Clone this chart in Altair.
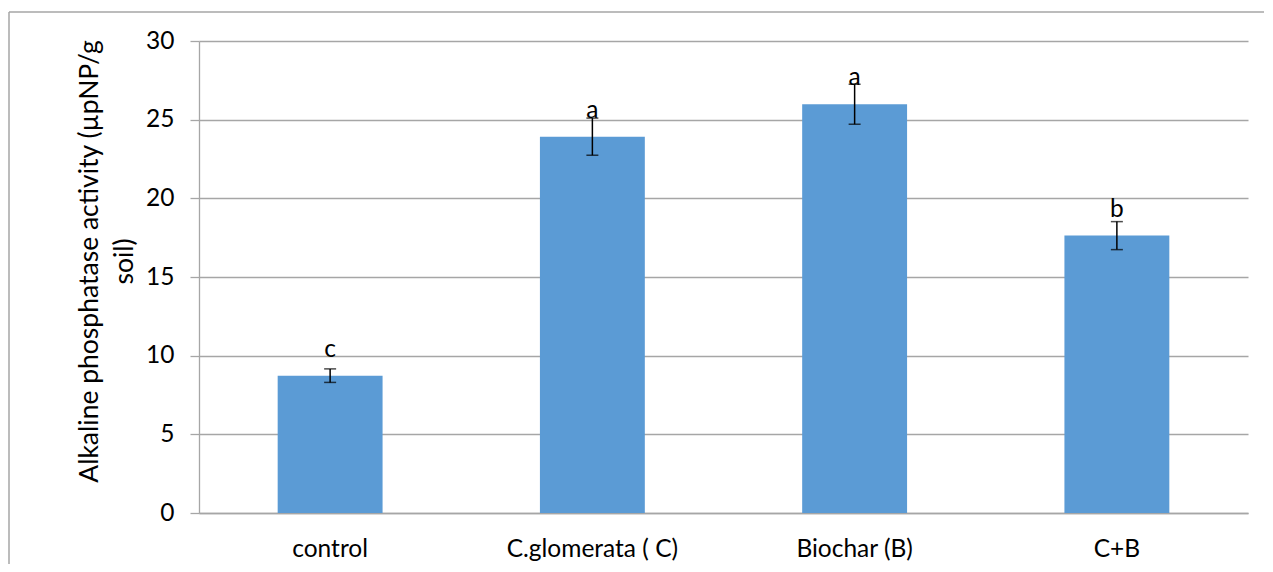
import altair as alt
import pandas as pd

categories = ["control", "C.glomerata ( C)", "Biochar (B)", "C+B"]
values = [8.73, 23.92, 25.98, 17.63]
errors = [0.43, 1.18, 1.27, 0.89]
letters = ["c", "a", "a", "b"]

df = pd.DataFrame({
    "cat": categories,
    "val": values,
    "err": errors,
    "lab": letters,
})
df["lo"] = df["val"] - df["err"]
df["hi"] = df["val"] + df["err"]

FONT = "Lato"
GRAY = "#a6a6a6"
FS = 24.5

x = alt.X("cat:N", sort=categories, title=None,
          scale=alt.Scale(paddingInner=0.6, paddingOuter=0.3),
          axis=alt.Axis(labelAngle=0, ticks=False, domain=True, domainColor=GRAY,
                        domainWidth=1.3,
                        labelFont=FONT, labelFontSize=FS, labelColor="black",
                        labelPadding=24, grid=False))
y = alt.Y("val:Q", scale=alt.Scale(domain=[0, 30], nice=False),
          title=["Alkaline phosphatase activity (µpNP/g", "soil)"],
          axis=alt.Axis(values=[0, 5, 10, 15, 20, 25, 30], grid=True, gridColor=GRAY,
                        gridWidth=1.3, domainColor=GRAY, domainWidth=1.3,
                        tickColor=GRAY, tickWidth=1.3, tickSize=9,
                        labelFont=FONT, labelFontSize=FS, labelColor="black",
                        labelPadding=16, titleFont=FONT, titleFontSize=26.5,
                        titleFontWeight="normal", titleColor="black",
                        titleLineHeight=35, titleX=-96, titleY=220))

base = alt.Chart(df)

bars = base.mark_bar(color="#5B9BD5").encode(x=x, y=y)
rule = base.mark_rule(color="black", strokeWidth=1.5).encode(
    x=alt.X("cat:N", sort=categories), y="lo:Q", y2="hi:Q")
cap_lo = base.mark_tick(color="black", thickness=1.5, size=12, orient="horizontal").encode(
    x=alt.X("cat:N", sort=categories), y="lo:Q")
cap_hi = base.mark_tick(color="black", thickness=1.5, size=12, orient="horizontal").encode(
    x=alt.X("cat:N", sort=categories), y="hi:Q")
text = base.mark_text(font=FONT, fontSize=FS, color="black", dy=-19,
                      baseline="alphabetic").encode(
    x=alt.X("cat:N", sort=categories), y="val:Q", text="lab:N")

border_left = alt.Chart(pd.DataFrame({"a": [0]})).mark_rule(color=GRAY, strokeWidth=1.5).encode(
    x=alt.value(-190), y=alt.value(-29), y2=alt.value(560))
border_top = alt.Chart(pd.DataFrame({"a": [0]})).mark_rule(color=GRAY, strokeWidth=1.5).encode(
    x=alt.value(-190), x2=alt.value(1090), y=alt.value(-29))

chart = alt.layer(border_left, border_top, bars, rule, cap_lo, cap_hi, text).properties(
    width=1049, height=472,
    padding={"left": 191, "top": 33, "right": 16, "bottom": 51},
    autosize="none",
).configure_view(stroke=None)

chart.save("out.html", embed_options={"renderer": "svg", "actions": False})
